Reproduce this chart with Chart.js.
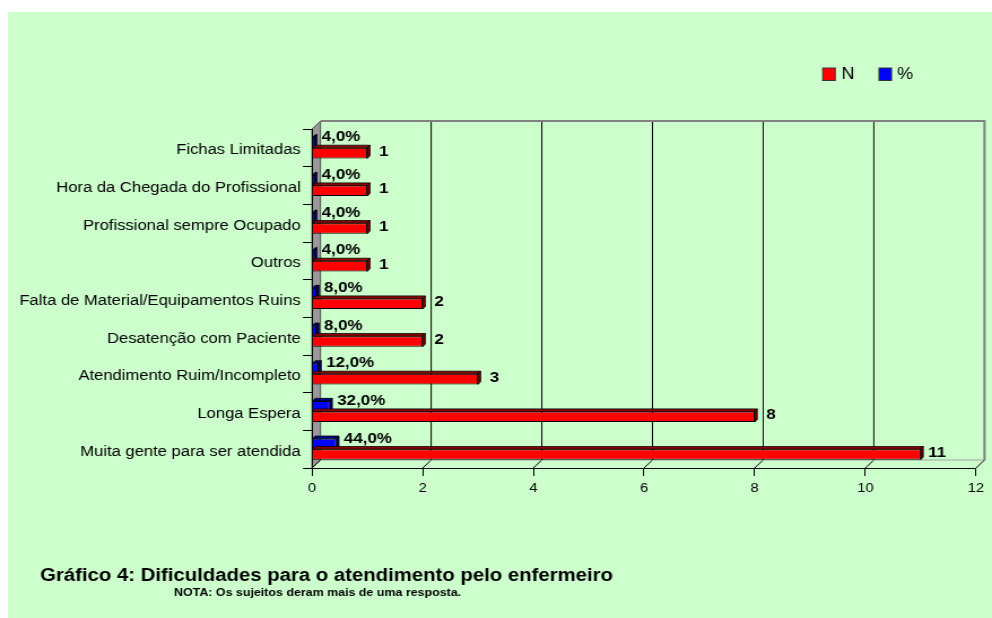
<!DOCTYPE html>
<html><head><meta charset="utf-8">
<script src="https://cdn.jsdelivr.net/npm/chart.js@4"></script>
<style>
html,body{margin:0;padding:0;background:#fff;overflow:hidden}
#c{position:absolute;left:0;top:0;width:992px;height:618px;display:block}
</style>
</head><body>
<canvas id="c" width="878" height="618" style="width:992px;height:618px"></canvas>
<script>
const categories = [
  'Fichas Limitadas',
  'Hora da Chegada do Profissional',
  'Profissional sempre Ocupado',
  'Outros',
  'Falta de Material/Equipamentos Ruins',
  'Desatenção com Paciente',
  'Atendimento Ruim/Incompleto',
  'Longa Espera',
  'Muita gente para ser atendida'
];
const nValues = [1, 1, 1, 1, 2, 2, 3, 8, 11];
const pctValues = [4, 4, 4, 4, 8, 8, 12, 32, 44];
const xTickValues = [0, 2, 4, 6, 8, 10, 12];
const legendLabels = ['N', '%'];
const titleText = 'Gráfico 4: Dificuldades para o atendimento pelo enfermeiro';
const noteText = 'NOTA: Os sujeitos deram mais de uma resposta.';

const SX = 992 / 878;
const FONT = '"Liberation Sans", Arial, Helvetica, sans-serif';
const WALL_DX = 8.5 / SX, WALL_DY = 8;
const BAR_DX = 2.6 / SX, BAR_DY = 2.6;
const GREEN = '#CCFFCC';

const scene = {
  id: 'scene',
  beforeDraw(chart) {
    const ctx = chart.ctx, a = chart.chartArea, xs = chart.scales.x;
    ctx.save();
    ctx.fillStyle = '#ffffff';
    ctx.fillRect(0, 0, chart.width, chart.height);
    ctx.fillStyle = GREEN;
    ctx.fillRect(8 / SX, 12, chart.width, chart.height);
    // left (gray) wall
    ctx.beginPath();
    ctx.moveTo(a.left, a.top);
    ctx.lineTo(a.left + WALL_DX, a.top - WALL_DY);
    ctx.lineTo(a.left + WALL_DX, a.bottom - WALL_DY);
    ctx.lineTo(a.left, a.bottom);
    ctx.closePath();
    ctx.fillStyle = '#999999';
    ctx.fill();
    ctx.strokeStyle = '#555555';
    ctx.lineWidth = 1;
    ctx.stroke();
    // back wall grid lines + floor diagonals
    ctx.strokeStyle = '#000000';
    ctx.lineWidth = 1;
    xTickValues.forEach(v => {
      const px = xs.getPixelForValue(v);
      if (v !== xTickValues[0] && v !== xTickValues[xTickValues.length - 1]) {
        ctx.beginPath();
        ctx.moveTo(px + WALL_DX, a.top - WALL_DY);
        ctx.lineTo(px + WALL_DX, a.bottom - WALL_DY);
        ctx.stroke();
      }
      ctx.beginPath();
      ctx.moveTo(px, a.bottom);
      ctx.lineTo(px + WALL_DX, a.bottom - WALL_DY);
      ctx.stroke();
    });
    // floor back edge
    ctx.strokeStyle = '#a0a0a0';
    ctx.beginPath();
    ctx.moveTo(a.left + WALL_DX, a.bottom - WALL_DY);
    ctx.lineTo(a.right + WALL_DX, a.bottom - WALL_DY);
    ctx.stroke();
    // back wall border (top, right)
    ctx.strokeStyle = '#808080';
    ctx.lineWidth = 2;
    ctx.beginPath();
    ctx.moveTo(a.left + WALL_DX, a.top - WALL_DY);
    ctx.lineTo(a.right + WALL_DX, a.top - WALL_DY);
    ctx.lineTo(a.right + WALL_DX, a.bottom - WALL_DY);
    ctx.stroke();
    ctx.restore();
  },
  afterDatasetsDraw(chart) {
    const ctx = chart.ctx;
    chart.data.datasets.forEach((ds, di) => {
      const meta = chart.getDatasetMeta(di);
      meta.data.forEach(el => {
        const p = el.getProps(['x', 'y', 'base', 'height'], true);
        const top = p.y - p.height / 2, bot = p.y + p.height / 2;
        ctx.save();
        ctx.lineWidth = 0.8;
        ctx.strokeStyle = '#000000';
        ctx.beginPath();
        ctx.moveTo(p.base, top);
        ctx.lineTo(p.base + BAR_DX, top - BAR_DY);
        ctx.lineTo(p.x + BAR_DX, top - BAR_DY);
        ctx.lineTo(p.x, top);
        ctx.closePath();
        ctx.fillStyle = ds.topColor;
        ctx.fill(); ctx.stroke();
        ctx.beginPath();
        ctx.moveTo(p.x, top);
        ctx.lineTo(p.x + BAR_DX, top - BAR_DY);
        ctx.lineTo(p.x + BAR_DX, bot - BAR_DY);
        ctx.lineTo(p.x, bot);
        ctx.closePath();
        ctx.fillStyle = ds.sideColor;
        ctx.fill(); ctx.stroke();
        ctx.restore();
      });
    });
    // data labels
    ctx.save();
    ctx.fillStyle = '#000000';
    ctx.font = 'bold 15px ' + FONT;
    ctx.textBaseline = 'middle';
    chart.data.datasets.forEach((ds, di) => {
      const meta = chart.getDatasetMeta(di);
      meta.data.forEach((el, i) => {
        const p = el.getProps(['x', 'y'], true);
        if (ds.kind === 'pct') {
          ctx.textAlign = 'left';
          ctx.fillText(pctValues[i].toFixed(1).replace('.', ',') + '%', p.x + 7.5 / SX, p.y - 5.5);
        } else {
          ctx.textAlign = 'center';
          ctx.fillText(String(nValues[i]), p.x + 16.5 / SX, p.y - 1.5);
        }
      });
    });
    ctx.restore();
  },
  afterDraw(chart) {
    const ctx = chart.ctx;
    ctx.save();
    // legend (N first, then %)
    const items = [
      { label: legendLabels[0], color: '#FF0000', bx: 822.7, tx: 841.5 },
      { label: legendLabels[1], color: '#0000FF', bx: 879, tx: 897 }
    ];
    ctx.font = '16px ' + FONT;
    ctx.textBaseline = 'middle';
    ctx.textAlign = 'left';
    items.forEach(it => {
      ctx.fillStyle = it.color;
      ctx.fillRect(it.bx / SX, 68, 12.5 / SX, 12.5);
      ctx.strokeStyle = '#333333';
      ctx.lineWidth = 1;
      ctx.strokeRect(it.bx / SX, 68, 12.5 / SX, 12.5);
      ctx.fillStyle = '#000000';
      ctx.fillText(it.label, it.tx / SX, 75);
    });
    // title and note
    ctx.textBaseline = 'alphabetic';
    ctx.font = 'bold 18px ' + FONT;
    ctx.fillText(titleText, 40 / SX, 581);
    ctx.font = 'bold 11px ' + FONT;
    ctx.fillText(noteText, 174 / SX, 596);
    ctx.restore();
  }
};

new Chart(document.getElementById('c'), {
  type: 'bar',
  data: {
    labels: categories,
    datasets: [
      {
        label: legendLabels[1], kind: 'pct',
        data: pctValues.map(v => v / 100),
        backgroundColor: '#0000FF', borderColor: '#000000', borderWidth: 1,
        topColor: '#000090', sideColor: '#000070',
        categoryPercentage: 0.56, barPercentage: 1
      },
      {
        label: legendLabels[0], kind: 'n',
        data: nValues,
        backgroundColor: '#FF0000', borderColor: '#000000', borderWidth: 1,
        topColor: '#900000', sideColor: '#780000',
        categoryPercentage: 0.56, barPercentage: 1
      }
    ]
  },
  options: {
    indexAxis: 'y',
    responsive: false,
    animation: false,
    devicePixelRatio: 1,
    layout: { padding: { left: 0, right: 878 - 976 / SX, top: 129, bottom: 0 } },
    plugins: { legend: { display: false }, title: { display: false }, tooltip: { enabled: false } },
    scales: {
      x: {
        min: 0, max: 12,
        afterFit(s) { s.height = 150; },
        afterBuildTicks(s) { s.ticks = xTickValues.map(v => ({ value: v })); },
        grid: { drawOnChartArea: false, drawTicks: true, tickLength: 8, color: '#000000' },
        border: { display: true, color: '#000000', width: 1 },
        ticks: { color: '#000000', font: { family: FONT, size: 13 }, padding: 5, maxRotation: 0 }
      },
      y: {
        afterFit(s) { s.width = 312 / SX; },
        grid: { drawOnChartArea: false, drawTicks: true, tickLength: 8, offset: true, color: '#000000' },
        border: { display: true, color: '#000000', width: 1 },
        ticks: { color: '#000000', font: { family: FONT, size: 14.7 }, padding: 2, autoSkip: false, labelOffset: 2.5 }
      }
    }
  },
  plugins: [scene]
});
</script>
</body></html>
